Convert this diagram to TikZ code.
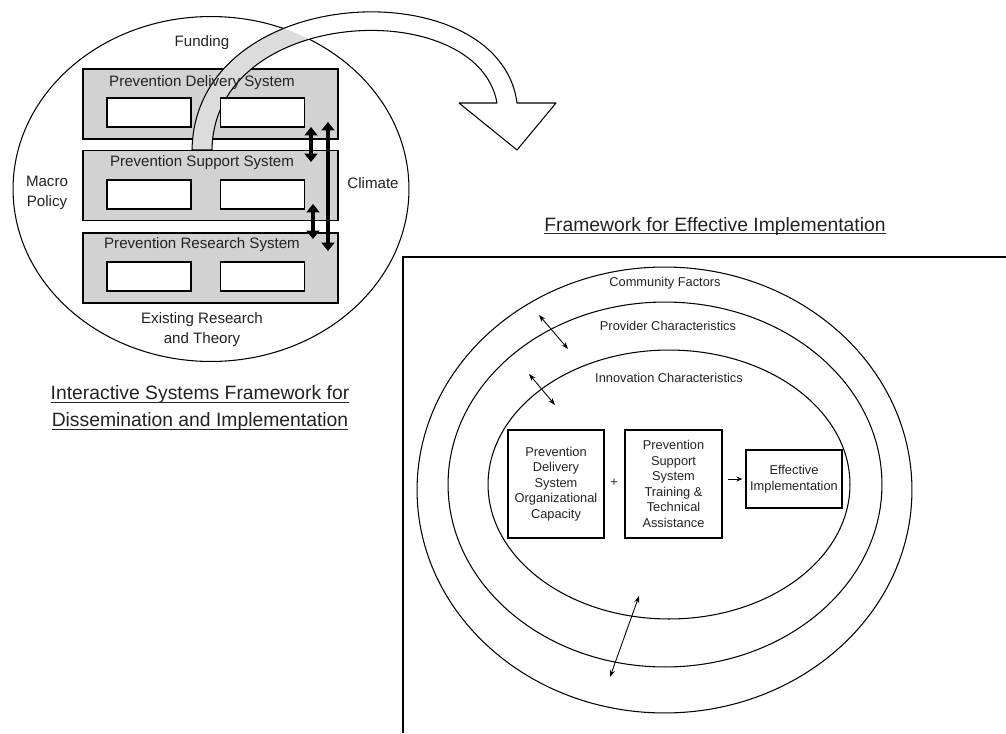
\documentclass[tikz,border=0pt]{standalone}
\usepackage{fontspec}
\setmainfont{Liberation Sans}
\usepackage{xcolor}
\usetikzlibrary{arrows.meta,shapes.geometric}

\definecolor{boxgray}{HTML}{D2D2D2}
\definecolor{bandgray}{HTML}{DCDCDC}
\definecolor{txt}{HTML}{222222}

% outline of the big curved arrow
\newcommand{\bandpath}{(192,150) .. controls (195,-20) and (500,-30) .. (517,103) -- (556,103) -- (517,150) -- (459,103) -- (497,103) .. controls (478,-5) and (214,5) .. (212,150) -- cycle}
% underline close to the baseline
\newcommand{\headul}[1]{\underline{\smash{#1}}}

\begin{document}
\begin{tikzpicture}[x=0.02cm, y=-0.02cm,
        sysbox/.style={rectangle, draw, line width=0.7pt, fill=boxgray, minimum width=5.1cm, minimum height=1.4cm, inner sep=0pt},
        slot/.style={rectangle, draw, line width=0.7pt, fill=white, minimum width=1.68cm, minimum height=0.58cm, inner sep=0pt},
        lbl/.style={font=\fontsize{8.6}{11.3}\selectfont, align=center, text=txt},
        rlbl/.style={font=\fontsize{7.3}{8.8}\selectfont, align=center, text=txt},
        heading/.style={font=\fontsize{11}{15.3}\selectfont, align=center, text=txt},
        framebox/.style={rectangle, draw, line width=0.7pt, minimum width=1.92cm, minimum height=2.16cm, inner sep=1pt, rlbl},
        ring/.style={ellipse, draw, line width=0.6pt, inner sep=0pt},
        fat/.style={line width=2.6pt, arrows={Triangle[length=0.17cm,width=0.26cm]-Triangle[length=0.17cm,width=0.26cm]}},
        twoway/.style={line width=0.5pt, arrows={Stealth[length=0.14cm,width=0.1cm]-Stealth[length=0.14cm,width=0.1cm]}}
    ]
        \useasboundingbox (0,0) rectangle (1006,733);

        % Interactive Systems Framework
        \node[ellipse, draw, line width=0.6pt, minimum width=7.92cm, minimum height=6.9cm, inner sep=0pt] (isf) at (211,189) {};
        \node[lbl] (funding) at (202,43) {Funding};
        \node[lbl] (macro) at (47,193) {Macro\\Policy};
        \node[lbl] (climate) at (373,183) {Climate};
        \node[lbl] (existing) at (202,330) {Existing Research\\and Theory};

        \node[sysbox] (delivery) at (210.5,104) {};
        \node[sysbox] (support) at (210.5,185.5) {};
        \node[sysbox] (research) at (210.5,268) {};

        % Curved arrow
        \fill[white] \bandpath;
        \begin{scope}
            \clip (isf.center) ellipse [x radius=3.96cm, y radius=3.45cm];
            \fill[bandgray] \bandpath;
        \end{scope}
        \draw[line width=0.6pt, line join=round] \bandpath;

        \node[lbl] (delivery-t) at (202,83) {Prevention Delivery System};
        \node[lbl] (support-t) at (202,163) {Prevention Support System};
        \node[lbl] (research-t) at (202,245) {Prevention Research System};

        \node[slot] (delivery-l) at (149,112.5) {};
        \node[slot] (delivery-r) at (262.5,112.5) {};
        \node[slot] (support-l) at (149,194.5) {};
        \node[slot] (support-r) at (262.5,194.5) {};
        \node[slot] (research-l) at (149,276.5) {};
        \node[slot] (research-r) at (262.5,276.5) {};

        % Links between systems
        \coordinate (ds-top) at (311,127);
        \coordinate (ds-bot) at (311,162);
        \coordinate (sr-top) at (313,204);
        \coordinate (sr-bot) at (313,239);
        \coordinate (dr-top) at (328,122);
        \coordinate (dr-bot) at (328,251);
        \draw[fat] (ds-top) -- (ds-bot);
        \draw[fat] (sr-top) -- (sr-bot);
        \draw[fat, line width=2.2pt] (dr-top) -- (dr-bot);

        \node[heading] (isf-title) at (200,415) {\headul{Interactive Systems Framework for}\\\headul{Dissemination and Implementation}};

        % Framework for Effective Implementation
        \node[heading] (fei-title) at (715,233) {\headul{Framework for Effective Implementation}};
        \draw[line width=0.8pt] (403,733) -- (403,257) -- (1006,257);

        \node[ring, minimum width=9.9cm, minimum height=8.92cm] (community) at (664.5,490) {};
        \node[ring, minimum width=8.68cm, minimum height=7.3cm] (provider) at (665,484.5) {};
        \node[ring, minimum width=7.24cm, minimum height=5.38cm] (innovation) at (669,484.5) {};
        \node[rlbl] (community-t) at (665,283) {Community Factors};
        \node[rlbl] (provider-t) at (668,326) {Provider Characteristics};
        \node[rlbl] (innovation-t) at (669,378) {Innovation Characteristics};

        \node[framebox] (pds) at (556,484) {Prevention\\Delivery\\System\\Organizational\\Capacity};
        \node[framebox, minimum width=1.94cm] (pss) at (673.5,484) {Prevention\\Support\\System\\Training \&\\Technical\\Assistance};
        \node[framebox, minimum height=1.16cm] (effective) at (794,479) {Effective\\Implementation};
        \node[rlbl] (plus) at (614,483) {+};
        \draw[-{Stealth[length=0.12cm,width=0.1cm]}, line width=0.5pt, shorten <=0.1cm, shorten >=0.06cm] (pss.east |- effective) -- (effective.west);

        % Interactions between levels
        \coordinate (cp-out) at (539,315);
        \coordinate (cp-in) at (568,349);
        \coordinate (pi-out) at (529,374);
        \coordinate (pi-in) at (555,405);
        \coordinate (low-in) at (639,596);
        \coordinate (low-out) at (610,677);
        \draw[twoway] (cp-out) -- (cp-in);
        \draw[twoway] (pi-out) -- (pi-in);
        \draw[twoway] (low-in) -- (low-out);
    \end{tikzpicture}
\end{document}
